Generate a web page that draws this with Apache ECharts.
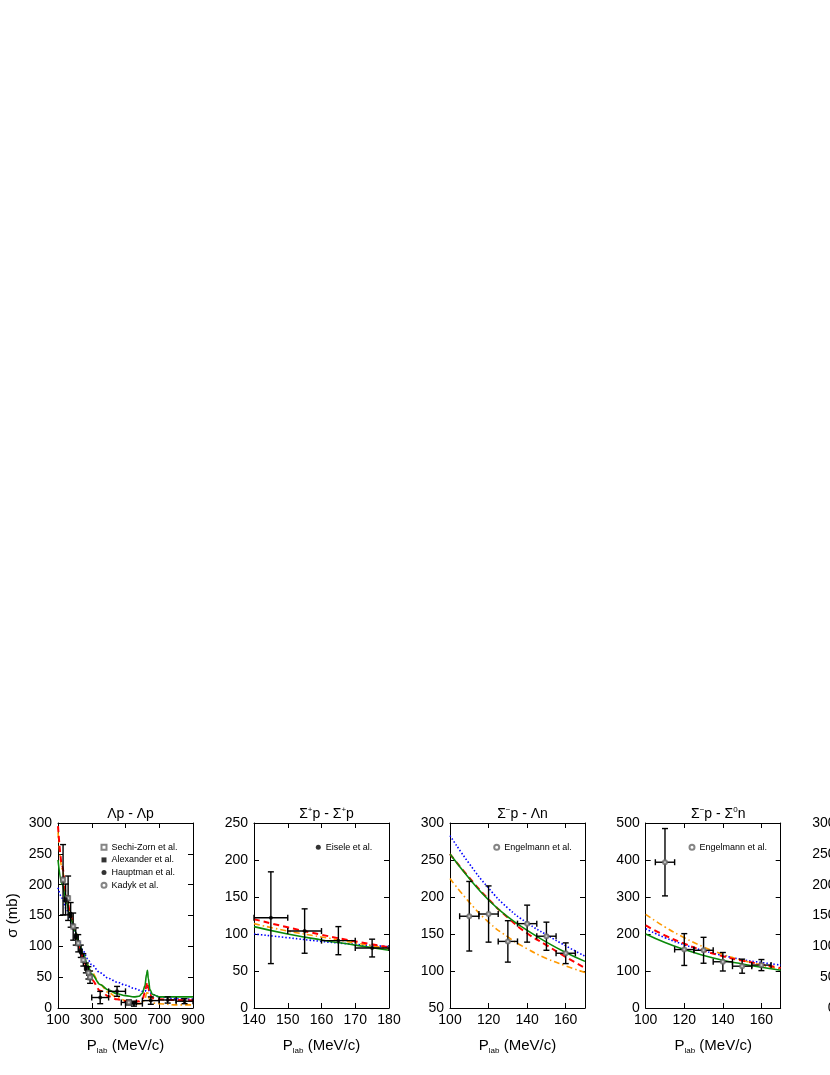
<!DOCTYPE html>
<html>
<head>
<meta charset="utf-8">
<title>Hyperon-nucleon cross sections</title>
<script src="https://cdn.jsdelivr.net/npm/echarts@6.0.0/dist/echarts.min.js"></script>
<style>
  html, body { margin: 0; padding: 0; background: #fff; }
  #chart { width: 830px; height: 1075px; }
</style>
</head>
<body>
<div id="chart"></div>
<script>
var FONT = '"Liberation Sans", Arial, Helvetica, sans-serif';

// ---- Λp -> Λp  (model curves)
var lpP       = [100,125,150,175,200,225,250,275,300,350,400,450,500,550,580,600,615,625,630,635,645,660,700,800,900];
var lpSolid   = [240,200,170,145,125,105,88,70,55,38,29,23,20,18,19,24,36,55,61,48,30,22,18,18,18];
var lpDashed  = [295,230,180,150,125,100,80,62,46,28,19,14,11,10,11,14,25,38,42,33,22,16,14,13,12];
var lpDashDot = [285,225,182,152,128,105,86,70,58,38,25,17,12,8,7,8,14,24,28,20,11,8,7,5,5];
var lpDotted  = [195,178,160,142,125,108,92,80,70,57,48,42,37,32,29,27,27,30,33,30,25,22,18,15,14];

// Λp data
var szP = [130,160,190,220,250,290];
var szSig = [208,178,132,105,78,50];
var szErrP = [5,5,5,5,5,10];
var szErrSig = [57,36,22,14,10,10];

var alexP = [145,175,205,235,265];
var alexSig = [176,151,116,92,65];
var alexErrP = [5,5,5,5,5];
var alexErrSig = [25,20,14,10,8];

var hauptP = [350,450,550,650,750,850];
var hauptSig = [17,27,7,12,13,11];
var hauptErrP = [50,50,50,50,50,50];
var hauptErrSig = [10,8,4,6,5,4];

var kadykP = [280,520];
var kadykSig = [57,9];
var kadykErrP = [10,45];
var kadykErrSig = [10,4];

// ---- Σ+p -> Σ+p
var spP       = [140,150,160,170,180];
var spSolid   = [110,100,92,85,78];
var spDashed  = [120,109,99,90,82];
var spDashDot = [114,104,96,88,80];
var spDotted  = [100,95,90,86,83];

var eiseleP = [145,155,165,175];
var eiseleSig = [122,104,91,81];
var eiseleErrP = [5,5,5,5];
var eiseleErrSig = [62,30,19,12];

// ---- Σ-p -> Λn
var lnP       = [100,110,120,130,140,150,160,170];
var lnSolid   = [258,225,196,173,155,139,125,113];
var lnDashed  = [258,226,197,172,151,135,119,104];
var lnDashDot = [225,193,166,146,130,117,107,98];
var lnDotted  = [283,245,212,185,165,149,134,120];

var engLnP = [110,120,130,140,150,160];
var engLnSig = [174,177,140,164,147,124];
var engLnErrP = [5,5,5,5,5,5];
var engLnErrSig = [47,38,28,25,19,14];

// ---- Σ-p -> Σ0n
var s0P       = [100,110,120,130,140,150,160,170];
var s0Solid   = [200,177,158,142,129,119,110,102];
var s0Dashed  = [223,196,174,155,140,128,118,108];
var s0DashDot = [253,219,190,165,145,129,116,105];
var s0Dotted  = [214,190,171,155,142,131,123,116];

var engS0P = [110,120,130,140,150,160];
var engS0Sig = [394,158,156,125,113,116];
var engS0ErrP = [5,5,5,5,5,5];
var engS0ErrSig = [91,43,35,25,19,15];

function pairs(xs, ys) {
  return xs.map(function (x, i) { return [x, ys[i]]; });
}
function errRows(p, s, ep, es) {
  return p.map(function (x, i) { return [x, s[i], ep[i], es[i]]; });
}

var panels = [
  { left: 58, x: [100, 900, 200], y: [0, 300, 50], yName: true, xName: true, monotone: true,
    title: '{t|Λp - Λp}',
    curveX: lpP, curves: [lpDotted, lpDashDot, lpDashed, lpSolid],
    legendLeft: 95.5,
    sets: [
      { name: 'Sechi-Zorn et al.', symbol: 'emptyRect', data: errRows(szP, szSig, szErrP, szErrSig) },
      { name: 'Alexander et al.', symbol: 'rect', data: errRows(alexP, alexSig, alexErrP, alexErrSig) },
      { name: 'Hauptman et al.', symbol: 'circle', data: errRows(hauptP, hauptSig, hauptErrP, hauptErrSig) },
      { name: 'Kadyk et al.', symbol: 'emptyCircle', data: errRows(kadykP, kadykSig, kadykErrP, kadykErrSig) }
    ] },
  { left: 254, x: [140, 180, 10], y: [0, 250, 50], xName: true,
    title: '{t|Σ}{s|+}{t|p - Σ}{s|+}{t|p}',
    curveX: spP, curves: [spDotted, spDashDot, spDashed, spSolid],
    legendLeft: 310.8,
    sets: [
      { name: 'Eisele et al.', symbol: 'circle', data: errRows(eiseleP, eiseleSig, eiseleErrP, eiseleErrSig) }
    ] },
  { left: 450, x: [100, 170, 20], y: [50, 300, 50], xName: true,
    title: '{t|Σ}{s|−}{t|p - Λn}',
    curveX: lnP, curves: [lnDotted, lnDashDot, lnDashed, lnSolid],
    legendLeft: 488.2,
    sets: [
      { name: 'Engelmann et al.', symbol: 'emptyCircle', data: errRows(engLnP, engLnSig, engLnErrP, engLnErrSig) }
    ] },
  { left: 645.7, x: [100, 170, 20], y: [0, 500, 100], xName: true,
    title: '{t|Σ}{s|−}{t|p - Σ}{s|0}{t|n}',
    curveX: s0P, curves: [s0Dotted, s0DashDot, s0Dashed, s0Solid],
    legendLeft: 683.5,
    sets: [
      { name: 'Engelmann et al. ', symbol: 'emptyCircle', data: errRows(engS0P, engS0Sig, engS0ErrP, engS0ErrSig) }
    ] },
  { left: 841.5, x: [100, 170, 20], y: [0, 300, 50], title: '', curves: [], sets: [] }
];

var curveStyles = [
  { color: '#0000ff', width: 1.6, type: [1.5, 2] },        // dotted
  { color: '#ff9900', width: 1.6, type: [6, 3, 1.5, 3] },  // dash-dot
  { color: '#ff0000', width: 2, type: [6, 4] },            // dashed
  { color: '#0a8a0a', width: 1.6, type: 'solid' }          // solid
];

var labelStyle = { color: '#000', fontSize: 14, fontFamily: FONT };

function renderErr(params, api) {
  var x = api.value(0), y = api.value(1), ex = api.value(2), ey = api.value(3);
  var l = api.coord([x - ex, y]), r = api.coord([x + ex, y]);
  var t = api.coord([x, y + ey]), b = api.coord([x, y - ey]);
  var c = 3;
  function seg(x1, y1, x2, y2) {
    return { type: 'line', shape: { x1: x1, y1: y1, x2: x2, y2: y2 },
             style: { stroke: '#000', lineWidth: 1.4 } };
  }
  return { type: 'group', children: [
    seg(l[0], l[1], r[0], r[1]),
    seg(l[0], l[1] - c, l[0], l[1] + c),
    seg(r[0], r[1] - c, r[0], r[1] + c),
    seg(t[0], t[1], b[0], b[1]),
    seg(t[0] - c, t[1], t[0] + c, t[1]),
    seg(b[0] - c, b[1], b[0] + c, b[1])
  ] };
}

var grids = [], xAxes = [], yAxes = [], titles = [], legends = [], series = [];

panels.forEach(function (p, i) {
  grids.push({ left: p.left, top: 823, width: 135, height: 185 });
  var tick = { inside: true, length: 5, lineStyle: { color: '#000', width: 1 } };
  var line = { show: true, onZero: false, lineStyle: { color: '#000', width: 1 } };
  xAxes.push({
    type: 'value', gridIndex: i, position: 'bottom', min: p.x[0], max: p.x[1], interval: p.x[2],
    axisLine: line, axisTick: tick, splitLine: { show: false },
    axisLabel: Object.assign({ margin: 5, showMaxLabel: (p.x[1] - p.x[0]) % p.x[2] === 0 }, labelStyle),
    name: p.xName ? '{n|P}{sub|lab}{n| (MeV/c)}' : '', nameLocation: 'middle', nameGap: 29,
    nameTextStyle: { rich: {
      n: { fontSize: 15, fontFamily: FONT, color: '#000', lineHeight: 18 },
      sub: { fontSize: 8, fontFamily: FONT, color: '#000', lineHeight: 8, verticalAlign: 'bottom' }
    } }
  });
  xAxes.push({
    type: 'value', gridIndex: i, position: 'top', min: p.x[0], max: p.x[1], interval: p.x[2],
    axisLine: line, axisTick: tick, splitLine: { show: false }, axisLabel: { show: false }
  });
  yAxes.push({
    type: 'value', gridIndex: i, position: 'left', min: p.y[0], max: p.y[1], interval: p.y[2],
    axisLine: line, axisTick: tick, splitLine: { show: false },
    axisLabel: Object.assign({ margin: 6 }, labelStyle),
    name: p.yName ? 'σ (mb)' : '', nameLocation: 'middle', nameGap: 38, nameRotate: 90,
    nameTextStyle: { fontSize: 15, fontFamily: FONT, color: '#000' }
  });
  yAxes.push({
    type: 'value', gridIndex: i, position: 'right', min: p.y[0], max: p.y[1], interval: p.y[2],
    axisLine: line, axisTick: tick, splitLine: { show: false }, axisLabel: { show: false }
  });

  if (p.title) {
    titles.push({
      text: p.title, left: p.left + 67.5, top: 801, textAlign: 'center',
      textStyle: { fontWeight: 'normal', rich: {
        t: { fontSize: 14, fontFamily: FONT, fontWeight: 'normal', color: '#000', lineHeight: 17 },
        s: { fontSize: 8, fontFamily: FONT, fontWeight: 'normal', color: '#000', lineHeight: 9, verticalAlign: 'top' }
      } }
    });
  }

  p.curves.forEach(function (ys, k) {
    var st = curveStyles[k];
    var s = {
      type: 'line', xAxisIndex: 2 * i, yAxisIndex: 2 * i,
      data: pairs(p.curveX, ys), showSymbol: false, smooth: p.monotone ? 0.35 : 0.5,
      lineStyle: { color: st.color, width: st.width, type: st.type }, z: 2 + k, silent: true
    };
    if (p.monotone) s.smoothMonotone = 'x';
    series.push(s);
  });

  var names = [];
  p.sets.forEach(function (s) {
    names.push(s.name);
    series.push({
      type: 'custom', xAxisIndex: 2 * i, yAxisIndex: 2 * i,
      data: s.data, renderItem: renderErr, z: 10, silent: true
    });
    series.push({
      type: 'scatter', name: s.name, xAxisIndex: 2 * i, yAxisIndex: 2 * i,
      data: s.data.map(function (d) { return [d[0], d[1]]; }),
      symbol: s.symbol, symbolSize: 4,
      itemStyle: { color: s.symbol.indexOf('empty') === 0 ? '#666' : '#000', borderWidth: 1 },
      z: 11, silent: true
    });
  });
  if (names.length) {
    legends.push({
      data: names, orient: 'vertical', left: p.legendLeft, top: 837.2,
      itemWidth: 5, itemHeight: 5, itemGap: 2.7, selectedMode: false,
      textStyle: { fontSize: 9, fontFamily: FONT, color: '#000', lineHeight: 10 }
    });
  }
});

var chart = echarts.init(document.getElementById('chart'), null, { renderer: 'canvas' });
chart.setOption({
  backgroundColor: '#fff',
  animation: false,
  title: titles,
  legend: legends,
  grid: grids,
  xAxis: xAxes,
  yAxis: yAxes,
  series: series
});
</script>
</body>
</html>
